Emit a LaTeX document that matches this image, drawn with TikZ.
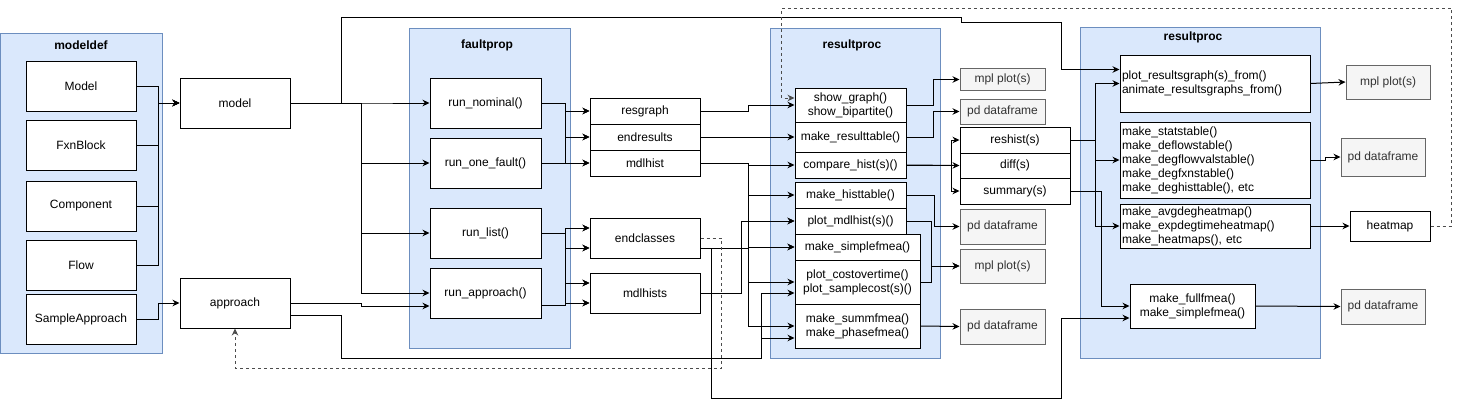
\documentclass[tikz,border=0pt]{standalone}
\usepackage{fontspec}
\setmainfont{Liberation Sans}
\usetikzlibrary{arrows.meta}
\definecolor{grpfill}{HTML}{DAE8FC}
\definecolor{grpdraw}{HTML}{6C8EBF}
\definecolor{outfill}{HTML}{F5F5F5}
\definecolor{outdraw}{HTML}{666666}
\definecolor{outtext}{HTML}{333333}
\tikzset{
  box/.style={draw=black, fill=white, line width=1pt, inner sep=1pt, align=center,
    font=\fontsize{12}{14}\selectfont},
  sz/.style 2 args={minimum width=#1pt, minimum height=#2pt},
  lbox/.style={box, align=left, text width=186pt, inner xsep=2pt, inner ysep=0pt},
  outbox/.style={box, draw=outdraw, fill=outfill, text=outtext},
  grp/.style={draw=grpdraw, fill=grpfill, line width=1pt},
  title/.style={font=\bfseries\fontsize{12}{14}\selectfont},
  arr/.style={-{Stealth[length=7pt,width=6.5pt]}, line width=1pt},
  dotlink/.style={arr, draw=black!70, dash pattern=on 3pt off 3pt}
}

\begin{document}
\begin{tikzpicture}[x=1pt,y=-1pt]
\useasboundingbox (0,0) rectangle (1460,407);

% containers
\draw[grp] (0.5,33) rectangle (162,353);
\draw[grp] (409,28) rectangle (570,348);
\draw[grp] (770,28) rectangle (940,358);
\draw[grp] (1080,27) rectangle (1320,358);
\node[title] (tmodeldef) at (81,45) {modeldef};
\node[title] (tfaultprop) at (487,45) {faultprop};
\node[title] (tresproc) at (852,45) {resultproc};
\node[title] (tresprocb) at (1193,37) {resultproc};

% modeldef
\node[box,sz={110}{50}] (Model) at (81,86) {Model};
\node[box,sz={110}{50}] (FxnBlock) at (81,145) {FxnBlock};
\node[box,sz={110}{50}] (Component) at (81,206) {Component};
\node[box,sz={110}{50}] (Flow) at (81,265) {Flow};
\node[box,sz={110}{50}] (SampleApp) at (81,319) {SampleApproach};

\node[box,sz={110}{50}] (mdl) at (235,103) {model};
\node[box,sz={110}{50}] (app) at (235,303) {approach};

% faultprop
\node[box,sz={111}{50}] (runnom) at (485.5,103) {run\_nominal()};
\node[box,sz={111}{50}] (runone) at (485.5,163) {run\_one\_fault()};
\node[box,sz={111}{50}] (runlist) at (485.5,233) {run\_list()};
\node[box,sz={111}{50}] (runapp) at (485.5,293) {run\_approach()};

% results
\node[box,sz={110}{26}] (resgraph) at (645,111) {resgraph};
\node[box,sz={110}{26}] (endresults) at (645,137) {endresults};
\node[box,sz={110}{26}] (mdlhist) at (645,163) {mdlhist};
\node[box,sz={110}{40}] (endclasses) at (645,238) {endclasses};
\node[box,sz={110}{40}] (mdlhists) at (645,293) {mdlhists};

% resultproc
\node[box,sz={111}{34}] (showgraph) at (850.5,105) {show\_graph()\\show\_bipartite()};
\node[box,sz={111}{30}] (restable) at (850.5,137) {make\_resulttable()};
\node[box,sz={111}{26}] (cmphist) at (850.5,165) {compare\_hist(s)()};
\node[box,sz={111}{26}] (histtable) at (850.5,195) {make\_histtable()};
\node[box,sz={111}{26}] (plothist) at (850.5,221) {plot\_mdlhist(s)()};
\node[box,sz={125}{26}] (simplefmea) at (857.5,247) {make\_simplefmea()};
\node[box,sz={125}{44}] (costtime) at (857.5,282) {plot\_costovertime()\\plot\_samplecost(s)()};
\node[box,sz={125}{44}] (summfmea) at (857.5,326) {make\_summfmea()\\make\_phasefmea()};

\node[outbox,sz={85}{22}] (mplA) at (1002.5,79.5) {mpl plot(s)};
\node[outbox,sz={85}{25}] (pdA) at (1002.5,111.5) {pd dataframe};
\node[box,sz={110}{26}] (reshist) at (1015,140) {reshist(s)};
\node[box,sz={110}{25}] (diff) at (1015,165.5) {diff(s)};
\node[box,sz={110}{26}] (summary) at (1015,191) {summary(s)};
\node[outbox,sz={85}{35}] (pdB) at (1002.5,226.5) {pd dataframe};
\node[outbox,sz={85}{34}] (mplB) at (1002.5,266) {mpl plot(s)};
\node[outbox,sz={85}{35}] (pdC) at (1002.5,326.5) {pd dataframe};

% resultproc (graphs, tables)
\node[lbox,minimum height=57pt] (graphfrom) at (1215,83.5) {plot\_resultsgraph(s)\_from()\\animate\_resultsgraphs\_from()};
\node[lbox,minimum height=76pt] (stattables) at (1215,160) {make\_statstable()\\make\_deflowstable()\\make\_degflowvalstable()\\make\_degfxnstable()\\make\_deghisttable(), etc};
\node[lbox,minimum height=44pt] (heatmaps) at (1215,226) {make\_avgdegheatmap()\\make\_expdegtimeheatmap()\\make\_heatmaps(), etc};
\node[box,sz={125}{44}] (fullfmea) at (1192.5,306) {make\_fullfmea()\\make\_simplefmea()};

\node[outbox,sz={84}{34}] (mplC) at (1388,82) {mpl plot(s)};
\node[outbox,sz={84}{38}] (pdD) at (1383,157) {pd dataframe};
\node[box,sz={80}{30}] (heatmap) at (1390,226) {heatmap};
\node[outbox,sz={84}{35}] (pdE) at (1383,306.5) {pd dataframe};

% modeldef -> model, approach
\foreach \n in {Model,FxnBlock,Component,Flow}
  \draw[arr] (\n.east) -- ++(22,0) |- (mdl.west);
\draw[arr] (SampleApp.east) -- ++(22,0) |- (app.west);

% model, approach -> faultprop
\foreach \n in {runnom,runone,runlist,runapp}
  \draw[arr] (mdl.east) -- ++(71,0) |- (\n.west);
\draw[arr] (app.east) -- ++(71,0) -- ++(0,3) -- ([yshift=-13pt]runapp.west);
\draw[arr] (mdl.east) -- ++(51,0) -- ++(0,-86) -- ++(620,0) -- ++(0,5) -- ++(100,0)
  |- ([yshift=14pt]graphfrom.west);
\draw[arr] ([yshift=-12pt]app.east) -- ++(51,0) -- ++(0,43) -- ++(420,0)
  |- ([yshift=-11pt]costtime.west);
\draw[arr] ([yshift=-12pt]app.east) -- ++(51,0) -- ++(0,43) -- ++(420,0)
  |- ([yshift=-12pt]summfmea.west);

% faultprop -> results
\foreach \a in {runnom,runone}
  \foreach \b in {resgraph,endresults,mdlhist}
    \draw[arr] (\a.east) -- ++(24,0) |- (\b.west);
\foreach \b/\s in {endclasses/10,endclasses/-10,mdlhists/10,mdlhists/-10}
  {
    \draw[arr] (runlist.east) -- ++(24,0) |- ([yshift=\s pt]\b.west);
    \draw[arr] ([yshift=-12pt]runapp.east) -- ++(24,0) |- ([yshift=\s pt]\b.west);
  }

% results -> resultproc
\draw[arr] (resgraph.east) -- ++(48,0) |- (showgraph.west);
\draw[arr] (endresults.east) -- (restable.west);
\foreach \b in {cmphist,histtable,plothist,simplefmea}
  \draw[arr] (mdlhist.east) -- ++(48,0) |- (\b.west);
\foreach \b in {simplefmea,costtime,summfmea}
  \draw[arr] ([yshift=-10pt]endclasses.east) -- ++(48,0) |- (\b.west);
\draw[arr] ([yshift=-10pt]endclasses.east) -- ++(11,0) -- ++(0,150) -- ++(350,0)
  |- ([yshift=-12pt]fullfmea.west);
\draw[arr] (mdlhists.east) -- ++(41,0) |- (plothist.west);
\draw[dotlink] (endclasses.east) -- ++(21,0) -- ++(0,130) -| (app.south);

% resultproc outputs
\draw[arr] (showgraph.east) -- ++(27,0) |- (mplA.west);
\draw[arr] (restable.east) -- ++(27,0) |- (pdA.west);
\draw[arr] (cmphist.east) -- (diff.west);
\foreach \b in {reshist,summary}
  \draw[arr] (cmphist.east) -- ++(45,0) |- (\b.west);
\draw[arr] (histtable.east) -- ++(28,0) |- (pdB.west);
\draw[arr] (plothist.east) -- ++(25,0) |- (mplB.west);
\draw[arr] (costtime.east) -- ++(11,0) |- (mplB.west);
\draw[arr] (summfmea.east) -- (pdC.west);

% second resultproc
\foreach \b in {graphfrom,stattables,heatmaps}
  \draw[arr] (reshist.east) -- ++(25,0) |- (\b.west);
\draw[arr] (summary.east) -- ++(31,0) |- (fullfmea.west);
\draw[arr] (graphfrom.east) -- (mplC.west);
\draw[arr] (stattables.east) -- ++(15,0) |- (pdD.west);
\draw[arr] (heatmaps.east) -- (heatmap.west);
\draw[arr] (fullfmea.east) -- (pdE.west);
\draw[dotlink] (heatmap.east) -- ++(21,0) -- ++(0,-218) -- ++(-670,0)
  |- ([yshift=7pt]showgraph.west);
\end{tikzpicture}
\end{document}
